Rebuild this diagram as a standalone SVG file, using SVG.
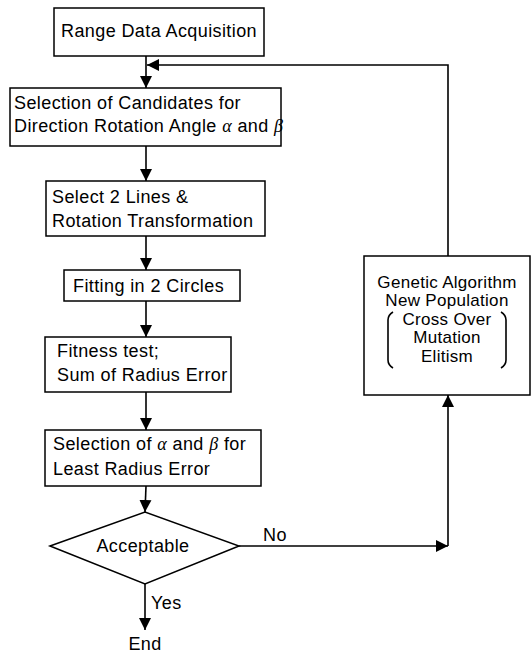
<svg xmlns="http://www.w3.org/2000/svg" width="532" height="657" viewBox="0 0 532 657">
<style>
.box{fill:#fff;stroke:#000;stroke-width:1.5}
.t{font-family:"Liberation Sans",Arial,sans-serif;font-size:18px;letter-spacing:0.4px;fill:#000}
.g{font-size:17px;letter-spacing:0.3px}
.c{text-anchor:middle}
.gr{font-family:"Liberation Serif",serif;font-style:italic}
.ln{fill:none;stroke:#000;stroke-width:1.6}
</style>
<defs>
<marker id="ah" markerWidth="12" markerHeight="13" refX="12" refY="6.5" orient="auto" markerUnits="userSpaceOnUse">
<path d="M0,0.5 L12,6.5 L0,12.5 Z" fill="#000"/>
</marker>
</defs>
<rect width="532" height="657" fill="#fff"/>
<g id="connectors">
<line class="ln" x1="146" y1="56" x2="146" y2="88" marker-end="url(#ah)"/>
<polyline class="ln" points="448,256 448,65 147,65" marker-end="url(#ah)"/>
<line class="ln" x1="146" y1="146" x2="146" y2="181" marker-end="url(#ah)"/>
<line class="ln" x1="146" y1="236" x2="146" y2="270" marker-end="url(#ah)"/>
<line class="ln" x1="146" y1="301" x2="146" y2="337" marker-end="url(#ah)"/>
<line class="ln" x1="146" y1="392" x2="146" y2="430" marker-end="url(#ah)"/>
<line class="ln" x1="146" y1="486" x2="145" y2="512" marker-end="url(#ah)"/>
<line class="ln" x1="239" y1="546" x2="448" y2="546" marker-end="url(#ah)"/>
<line class="ln" x1="448" y1="546" x2="448" y2="395" marker-end="url(#ah)"/>
<line class="ln" x1="145" y1="584" x2="145" y2="630" marker-end="url(#ah)"/>
<text class="t" x="263" y="541">No</text>
<text class="t" x="151" y="609">Yes</text>
</g>
<g id="n1"><rect class="box" x="54" y="8" width="210" height="48"/><text class="t c" x="159" y="37">Range Data Acquisition</text></g>
<g id="n2"><rect class="box" x="10" y="88" width="271" height="58"/><text class="t" x="14" y="109">Selection of Candidates for</text><text class="t" x="14" y="132">Direction Rotation Angle <tspan class="gr">α</tspan> and <tspan class="gr">β</tspan></text></g>
<g id="n3"><rect class="box" x="46" y="181" width="219" height="55"/><text class="t" x="52" y="203">Select 2 Lines &amp;</text><text class="t" x="52" y="227">Rotation Transformation</text></g>
<g id="n4"><rect class="box" x="64" y="270" width="176" height="31"/><text class="t" x="73" y="292">Fitting in 2 Circles</text></g>
<g id="n5"><rect class="box" x="45" y="337" width="186" height="55"/><text class="t" x="57" y="357">Fitness test;</text><text class="t" x="57" y="381">Sum of Radius Error</text></g>
<g id="n6"><rect class="box" x="45" y="430" width="216" height="56"/><text class="t" x="53" y="450">Selection of <tspan class="gr">α</tspan> and <tspan class="gr">β</tspan> for</text><text class="t" x="53" y="475">Least Radius Error</text></g>
<g id="n7"><polygon class="box" points="50,546 145,512 239,546 145,584"/><text class="t c" x="143" y="552">Acceptable</text></g>
<g id="n8"><text class="t c" x="145" y="650">End</text></g>
<g id="n9"><rect class="box" x="364" y="256" width="166" height="139"/>
<text class="t g c" x="447" y="288">Genetic Algorithm</text>
<text class="t g c" x="447" y="306">New Population</text>
<text class="t g c" x="447" y="325">Cross Over</text>
<text class="t g c" x="447" y="343">Mutation</text>
<text class="t g c" x="447" y="362">Elitism</text>
<path class="ln" d="M393,312 Q388,315 388,320 L388,360 Q388,365 393,368"/>
<path class="ln" d="M501,312 Q506,315 506,320 L506,360 Q506,365 501,368"/>
</g>
</svg>
